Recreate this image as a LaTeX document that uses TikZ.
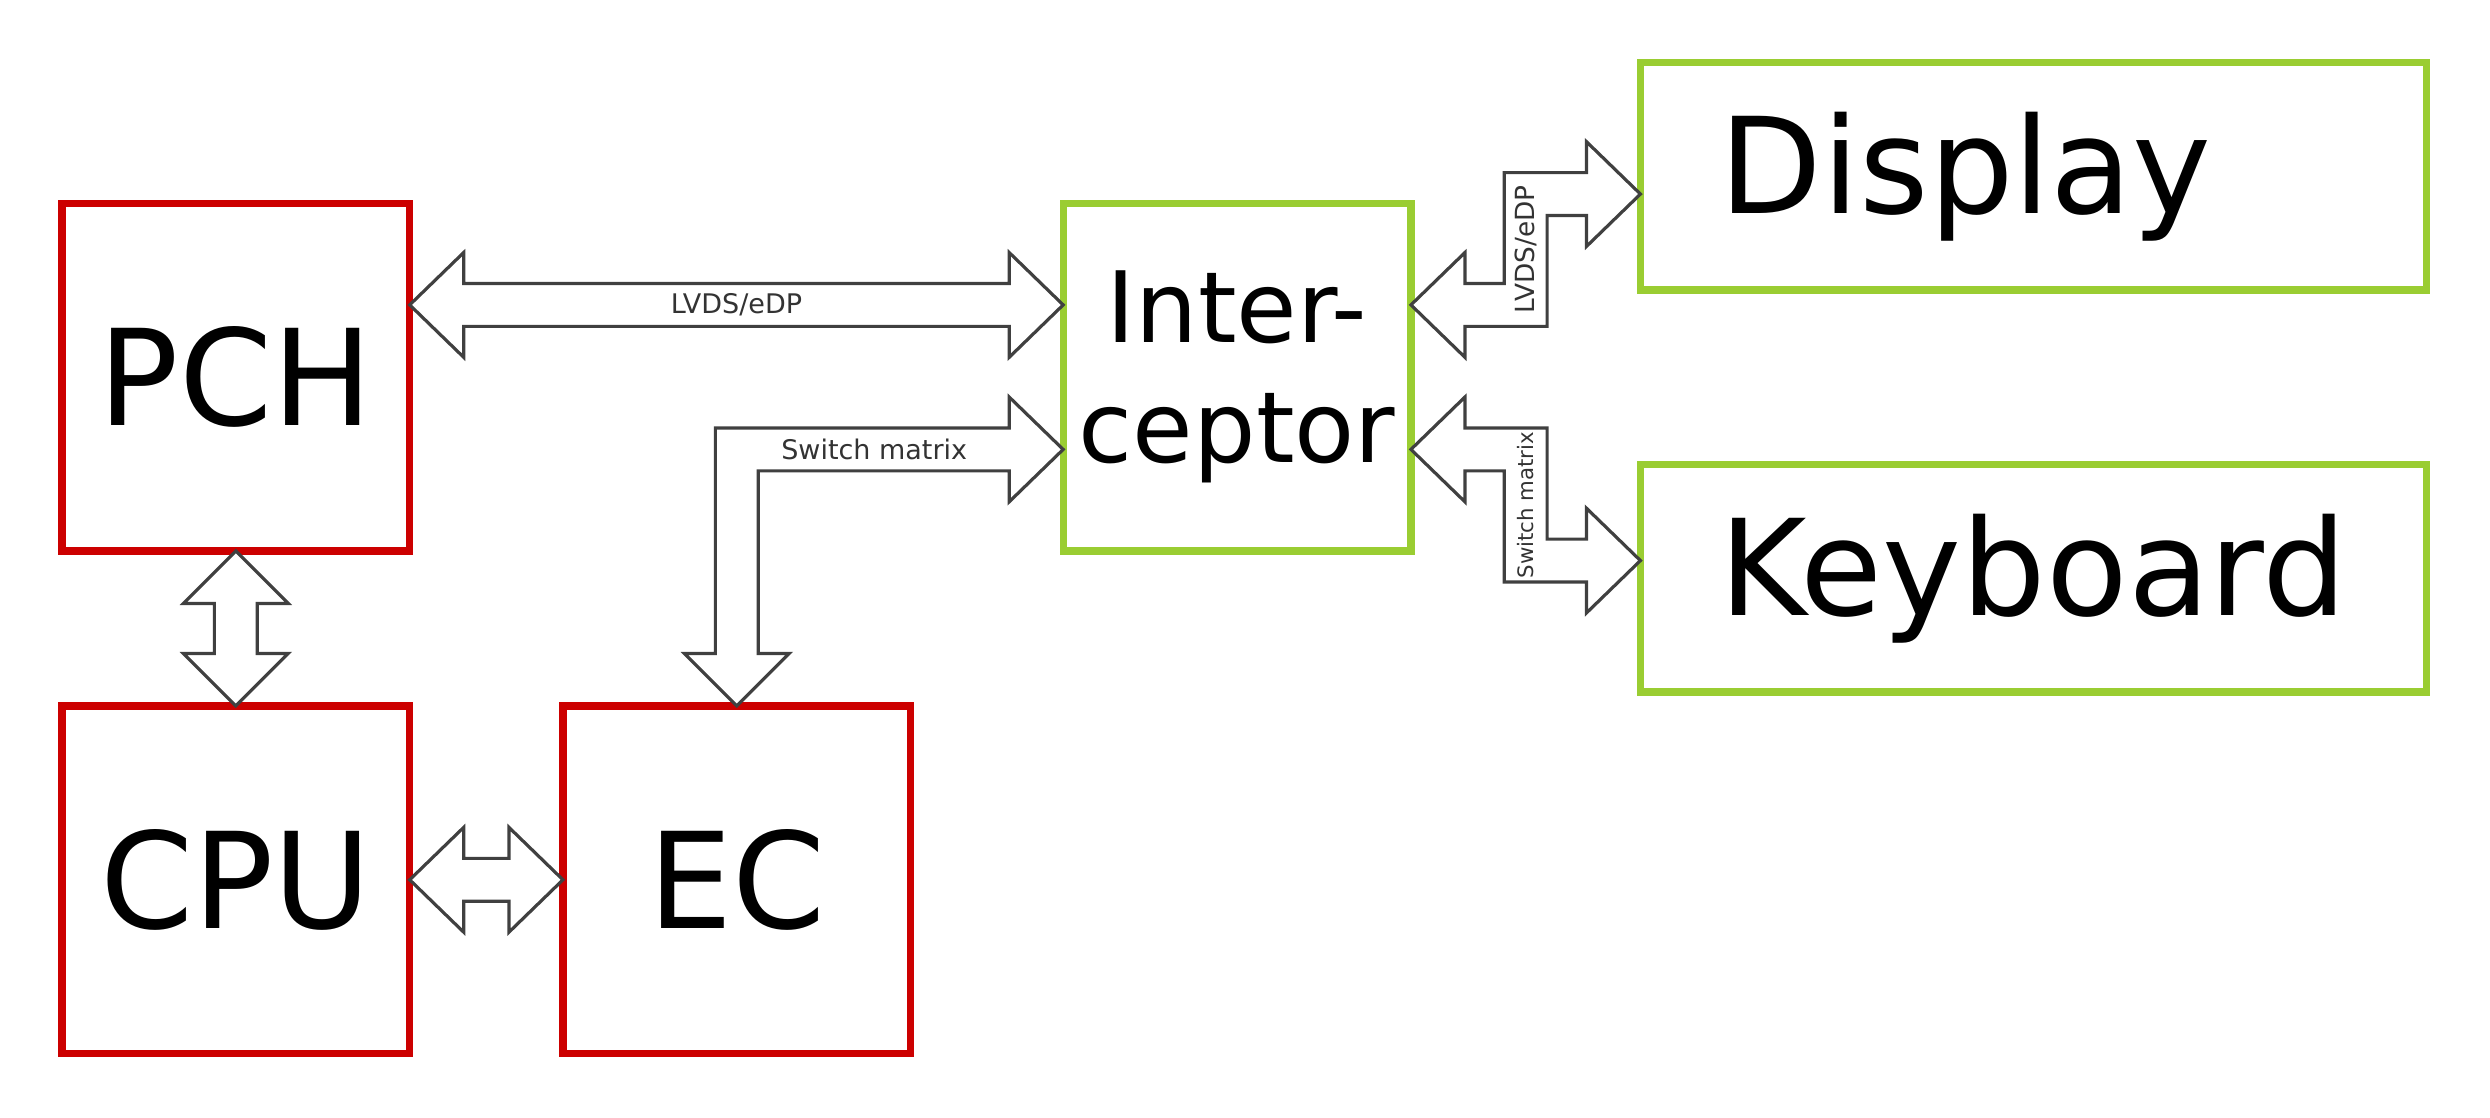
\documentclass[tikz,border=0pt]{standalone}
\usepackage{fontspec}
\setmainfont{DejaVu Sans}
\usetikzlibrary{calc}
\definecolor{boxred}{HTML}{CC0000}
\definecolor{boxgreen}{HTML}{9ACD32}
\definecolor{arrowgray}{HTML}{404040}
\definecolor{labelgray}{HTML}{333333}
\newcommand\hdarrow[2]{%
  \draw[barrow] (#1) -- ++(34,-33) -- ++(0,19.5) -- ($(#2)+(-34,-13.5)$) -- ++(0,-19.5) -- (#2)
    -- ++(-34,33) -- ++(0,-19.5) -- ($(#1)+(34,13.5)$) -- ++(0,19.5) -- cycle;}
\newcommand\vdarrow[2]{%
  \draw[barrow] (#1) -- ++(33,33) -- ++(-19.5,0) -- ($(#2)+(13.5,-33)$) -- ++(19.5,0) -- (#2)
    -- ++(-33,-33) -- ++(19.5,0) -- ($(#1)+(-13.5,33)$) -- ++(-19.5,0) -- cycle;}
\begin{document}
\begin{tikzpicture}[x=0.5pt,y=-0.5pt,
  blk/.style={draw, line width=2.3pt, inner sep=0pt, outer sep=0pt, anchor=center,
    font=\fontsize{42}{50}\selectfont},
  redblk/.style={blk, draw=boxred},
  greenblk/.style={blk, draw=boxgreen},
  sq/.style={minimum width=109.5pt, minimum height=109.5pt},
  wide/.style={minimum width=247.5pt, minimum height=71.6pt, text width=197.5pt,
    align=left, inner xsep=25pt},
  barrow/.style={draw=arrowgray, fill=white, line width=1pt, line join=miter},
  lbl/.style={text=labelgray, font=\fontsize{8.5}{10.2}\selectfont, inner sep=0pt},
  ]
\useasboundingbox (0,0) rectangle (1568,703.4);

% blocks
\node[redblk, sq] (pch) at (148.5,237.5) {PCH};
\node[redblk, sq] (cpu) at (148.5,554) {CPU};
\node[redblk, sq] (ec) at (464,554) {EC};
\node[greenblk, sq, align=center, font=\fontsize{31}{37.8}\selectfont] (int) at (779,237.5) {Inter-\\ceptor};
\node[greenblk, wide] (disp) at (1280.5,111) {Display};
\node[greenblk, wide] (kbd) at (1280.5,364.2) {Keyboard};

% tip coordinates
\coordinate (a1) at ($(pch.east)+(0,-45.5)$);
\coordinate (a2) at ($(int.west)+(0,-45.5)$);
\coordinate (s1) at ($(int.west)+(0,45.5)$);
\coordinate (s2) at (ec.north);
\coordinate (u1) at ($(int.east)+(0,-45.5)$);
\coordinate (u2) at ($(disp.west)+(0,11.2)$);
\coordinate (um) at ($(u1)!0.5!(u2)$);
\coordinate (l1) at ($(int.east)+(0,45.5)$);
\coordinate (l2) at ($(kbd.west)+(0,-11.2)$);
\coordinate (lm) at ($(l1)!0.5!(l2)$);

% PCH <-> Interceptor
\hdarrow{a1}{a2}
% PCH <-> CPU
\vdarrow{pch.south}{cpu.north}
% CPU <-> EC
\hdarrow{cpu.east}{ec.west}
% Interceptor <-> EC (L shape)
\draw[barrow] (s1) -- ++(-34,-33) -- ++(0,19.5) -- ($(s2 |- s1)+(-13.5,-13.5)$)
  -- ($(s2)+(-13.5,-33)$) -- ++(-19.5,0) -- (s2) -- ++(33,-33) -- ++(-19.5,0)
  -- ($(s2 |- s1)+(13.5,13.5)$) -- ($(s1)+(-34,13.5)$) -- ++(0,19.5) -- cycle;
% Interceptor <-> Display (Z shape)
\draw[barrow] (u1) -- ++(34,-33) -- ++(0,19.5) -- ($(um |- u1)+(-13.5,-13.5)$)
  -- ($(um |- u2)+(-13.5,-13.5)$) -- ($(u2)+(-34,-13.5)$) -- ++(0,-19.5) -- (u2)
  -- ++(-34,33) -- ++(0,-19.5) -- ($(um |- u2)+(13.5,13.5)$) -- ($(um |- u1)+(13.5,13.5)$)
  -- ($(u1)+(34,13.5)$) -- ++(0,19.5) -- cycle;
% Interceptor <-> Keyboard (Z shape)
\draw[barrow] (l1) -- ++(34,-33) -- ++(0,19.5) -- ($(lm |- l1)+(13.5,-13.5)$)
  -- ($(lm |- l2)+(13.5,-13.5)$) -- ($(l2)+(-34,-13.5)$) -- ++(0,-19.5) -- (l2)
  -- ++(-34,33) -- ++(0,-19.5) -- ($(lm |- l2)+(-13.5,13.5)$) -- ($(lm |- l1)+(-13.5,13.5)$)
  -- ($(l1)+(34,13.5)$) -- ++(0,19.5) -- cycle;

% labels
\node[lbl] (lab1) at ($(a1)!0.5!(a2)$) {LVDS/eDP};
\node[lbl] (lab2) at ($(s1)+(-119,0)$) {Switch matrix};
\node[lbl, rotate=90, font=\fontsize{8.3}{10}\selectfont] (lab3) at (um) {LVDS/eDP};
\node[lbl, rotate=90, font=\fontsize{6.7}{8}\selectfont] (lab4) at (lm) {Switch matrix};
\end{tikzpicture}
\end{document}
